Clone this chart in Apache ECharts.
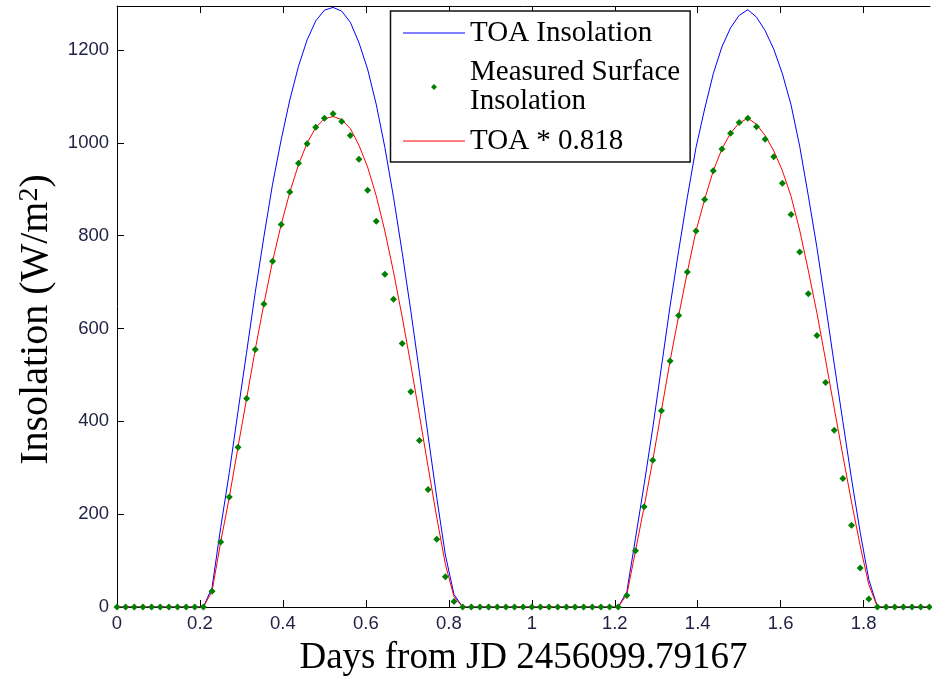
<!DOCTYPE html>
<html>
<head>
<meta charset="utf-8">
<script src="https://cdn.jsdelivr.net/npm/echarts@6/dist/echarts.min.js"></script>
<style>
html, body { margin: 0; padding: 0; background: #fff; }
#main { width: 932px; height: 681px; }
</style>
</head>
<body>
<div id="main"></div>
<script>
// half-hour samples, days from JD 2456099.79167
var stepDays = 1 / 48;

var xTicks = [0, 0.2, 0.4, 0.6, 0.8, 1, 1.2, 1.4, 1.6, 1.8];
var yTicks = [0, 200, 400, 600, 800, 1000, 1200];

var toa = [
    0, 0, 0, 0, 0, 0, 0, 0, 0, 0, 0,
    42, 171, 290, 421, 549, 678, 798, 911, 1007, 1093, 1165, 1222, 1263, 1286, 1292,
    1284, 1260, 1216, 1159, 1083, 990, 883, 764, 638, 505, 369, 236, 112, 27,
    0, 0, 0, 0, 0, 0, 0, 0, 0, 0, 0, 0, 0, 0, 0, 0, 0, 0, 0,
    33, 148, 264, 386, 517, 648, 768, 883, 990, 1073, 1149, 1207, 1248, 1275, 1287,
    1271, 1242, 1202, 1149, 1082, 993, 886, 774, 650, 523, 399, 276, 161, 59,
    0, 0, 0, 0, 0, 0, 0
];

var measured = [
    0, 0, 0, 0, 0, 0, 0, 0, 0, 0, 0,
    34, 140, 237, 344, 449, 555, 653, 745, 824, 894, 956, 998, 1034, 1053, 1063,
    1046, 1016, 965, 898, 831, 717, 663, 568, 464, 359, 253, 146, 65, 12,
    0, 0, 0, 0, 0, 0, 0, 0, 0, 0, 0, 0, 0, 0, 0, 0, 0, 0, 0,
    25, 121, 216, 316, 423, 530, 628, 722, 810, 878, 940, 987, 1021, 1044, 1053,
    1035, 1008, 970, 913, 846, 765, 675, 585, 484, 381, 277, 176, 84, 17,
    0, 0, 0, 0, 0, 0, 0
];

var toaScaled = [
    0, 0, 0, 0, 0, 0, 0, 0, 0, 0, 0,
    34, 140, 237, 344, 449, 555, 653, 745, 824, 894, 953, 1000, 1033, 1052, 1057,
    1050, 1031, 995, 948, 886, 810, 722, 625, 522, 413, 302, 193, 92, 22,
    0, 0, 0, 0, 0, 0, 0, 0, 0, 0, 0, 0, 0, 0, 0, 0, 0, 0, 0,
    27, 121, 216, 316, 423, 530, 628, 722, 810, 878, 940, 987, 1021, 1043, 1053,
    1040, 1016, 983, 940, 885, 812, 725, 633, 532, 428, 326, 226, 132, 48,
    0, 0, 0, 0, 0, 0, 0
];

function toPairs(vals) {
    var out = [];
    for (var i = 0; i < vals.length; i++) {
        out.push([i * stepDays, vals[i]]);
    }
    return out;
}

// legend icons padded out to the full 62x6 item box so they are not stretched
var lineIcon = 'path://M0,0L0,0M0,2.5L62,2.5L62,3.5L0,3.5ZM0,6L0,6';
var dotIcon = 'path://M0,3L0,3M62,3L62,3M31,0L34,3L31,6L28,3Z';

var tickFont = { fontFamily: 'Liberation Sans', fontSize: 18.5, color: '#222244' };
var axisBlack = { show: true, lineStyle: { color: '#000', width: 1 } };
var plain = function (v) { return String(v); };

var chart = echarts.init(document.getElementById('main'));
chart.setOption({
    animation: false,
    backgroundColor: '#fff',
    grid: { left: 117, top: 6, right: 2, bottom: 74, outerBoundsMode: 'none' },
    legend: {
        orient: 'vertical',
        left: 390.5,
        top: 11,
        padding: [7.5, 10, 6.5, 12.5],
        itemWidth: 62,
        itemHeight: 6,
        itemGap: 10.5,
        selectedMode: false,
        backgroundColor: '#fff',
        borderColor: '#111',
        borderWidth: 1.5,
        textStyle: { fontFamily: 'Liberation Serif', fontSize: 29, lineHeight: 29, color: '#000' },
        data: [
            { name: 'TOA Insolation', icon: lineIcon },
            { name: 'Measured Surface\nInsolation', icon: dotIcon },
            { name: 'TOA * 0.818', icon: lineIcon }
        ]
    },
    xAxis: [{
        type: 'value',
        min: 0,
        max: 1.96,
        axisLine: axisBlack,
        axisTick: { inside: true, length: 7, customValues: xTicks, lineStyle: { color: '#000' } },
        axisLabel: Object.assign({ customValues: xTicks, margin: 7, formatter: plain }, tickFont),
        splitLine: { show: false },
        name: 'Days from JD 2456099.79167',
        nameLocation: 'middle',
        nameGap: 33,
        nameTextStyle: { fontFamily: 'Liberation Serif', fontSize: 37, color: '#000' }
    }, {
        type: 'value',
        position: 'top',
        min: 0,
        max: 1.96,
        axisLine: axisBlack,
        axisTick: { inside: true, length: 7, customValues: xTicks, lineStyle: { color: '#000' } },
        axisLabel: { show: false },
        splitLine: { show: false }
    }],
    yAxis: {
        type: 'value',
        min: 0,
        max: 1295,
        axisLine: axisBlack,
        axisTick: { inside: true, length: 7, customValues: yTicks, lineStyle: { color: '#000' } },
        axisLabel: Object.assign({ customValues: yTicks, margin: 8, formatter: plain }, tickFont),
        splitLine: { show: false },
        name: 'Insolation (W/m{sup|2})',
        nameLocation: 'middle',
        nameGap: 58,
        nameTextStyle: {
            fontFamily: 'Liberation Serif', fontSize: 40, color: '#000',
            padding: [0, 26, 0, 0],
            rich: {
                sup: { fontFamily: 'Liberation Serif', fontSize: 28, color: '#000', verticalAlign: 'top', padding: [0, 0, 14, 0] }
            }
        }
    },
    series: [{
        name: 'TOA Insolation',
        type: 'line',
        data: toPairs(toa),
        symbol: 'none',
        color: '#0000ff',
        lineStyle: { color: '#0000ff', width: 1 },
        z: 2
    }, {
        name: 'TOA * 0.818',
        type: 'line',
        data: toPairs(toaScaled),
        symbol: 'none',
        color: '#ff0000',
        lineStyle: { color: '#ff0000', width: 1 },
        z: 3
    }, {
        name: 'Measured Surface\nInsolation',
        type: 'scatter',
        data: toPairs(measured),
        symbol: 'diamond',
        symbolSize: 7,
        itemStyle: { color: '#008000', opacity: 1 },
        z: 4
    }]
});
</script>
</body>
</html>
